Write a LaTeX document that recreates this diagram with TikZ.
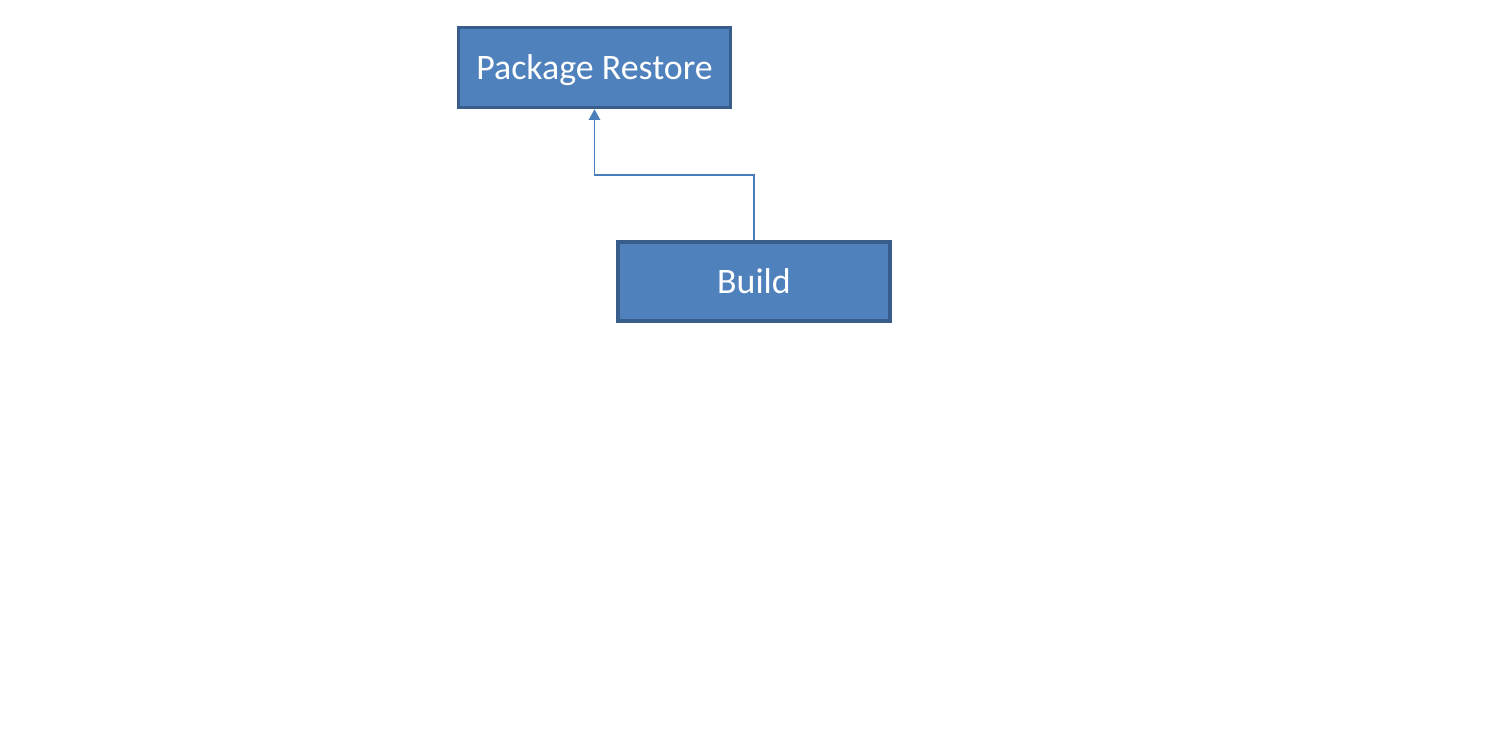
\documentclass[tikz,border=0pt]{standalone}
\usepackage{fontspec}
\setmainfont{Carlito}
\usetikzlibrary{arrows.meta}
\definecolor{boxfill}{HTML}{4F81BD}
\definecolor{boxline}{HTML}{385D8A}
\definecolor{arrowcol}{HTML}{4A7EBB}
\begin{document}
\begin{tikzpicture}[x=0.01cm,y=-0.01cm,
  stepbox/.style={draw=boxline, fill=boxfill, line width=1pt, minimum width=2.72cm, minimum height=0.80cm, inner sep=0pt, text=white, text height=6.6pt, text depth=0pt, font=\fontsize{10.2pt}{12pt}\selectfont},
  conn/.style={draw=arrowcol, line width=0.45pt, -{Triangle[width=3.2pt,length=3pt]}}]
\useasboundingbox[fill=white] (0,0) rectangle (1508,733);
\node[stepbox] (pr) at (594.5,67.5) {Package Restore};
\node[stepbox, minimum height=0.79cm] (b) at (754,281.5) {Build};
\coordinate (m) at (594.5,175);
\draw[conn] (b.north) |- (m) -- (pr.south);
\end{tikzpicture}
\end{document}
